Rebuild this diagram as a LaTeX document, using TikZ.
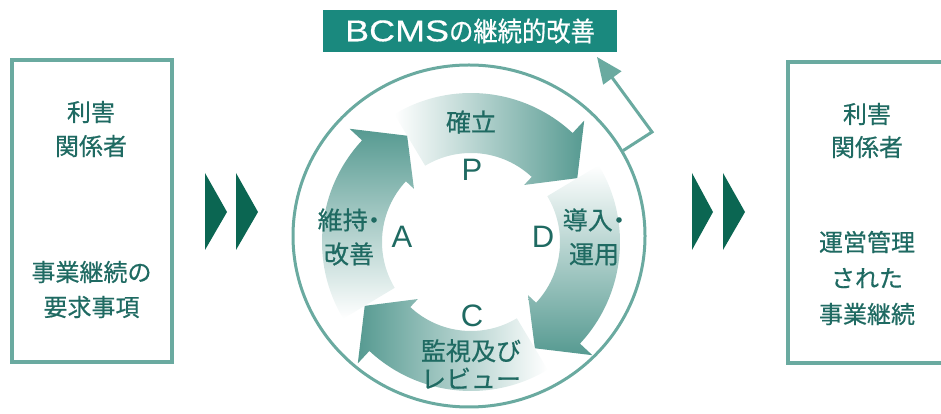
\documentclass[tikz,border=0pt]{standalone}
\usepackage{fontspec}
\newfontfamily\cjk[FakeBold=0.6]{Noto Sans CJK JP}
\newfontfamily\cjkt[FakeStretch=0.9,FakeBold=0.6]{Noto Sans CJK JP}
\newfontfamily\lat{Liberation Sans}
\newfontfamily\latt[FakeStretch=1.2,FakeBold=0.4]{Liberation Sans}
\usetikzlibrary{arrows.meta,shapes.geometric}
\definecolor{ringc}{HTML}{6AAAA0}
\definecolor{tealA}{HTML}{569A91}
\definecolor{txt}{HTML}{1F6A62}
\definecolor{titlebg}{HTML}{1A897E}
\definecolor{chev}{HTML}{0B6652}
\begin{document}
\begin{tikzpicture}[x=1pt,y=1pt,
  frame/.style={draw=ringc, line width=3.5pt, inner sep=0pt},
  jp/.style={text=txt, font=\cjk\fontsize{24}{35}\selectfont, align=center, inner sep=0pt},
  jpc/.style={text=txt, font=\cjk\fontsize{25}{34}\selectfont, align=center, inner sep=0pt},
  letter/.style={text=txt, font=\lat\fontsize{31}{31}\selectfont, inner sep=0pt},
  chevron/.style={fill=chev, draw=none},
  fb/.style={draw=ringc, line width=3pt, -{Triangle[length=26pt, width=22pt]}}]
\useasboundingbox (0,0) rectangle (941,414);
\clip (0,0) rectangle (941,414);

% outer ring
\node (ring) [draw=ringc, line width=3pt, ellipse, minimum width=352, minimum height=342, inner sep=0pt] at (469,178) {};

% PDCA arrows
\begin{scope}[shift={(471,172)}]
\shade[left color=white, right color=tealA]
  (121:149) arc[start angle=121, end angle=47, radius=149] -- (47:166) -- (31:124) -- (47:78) -- (47:89) arc[start angle=47, end angle=121, radius=89] -- cycle;
\shade[top color=white, bottom color=tealA]
  (31:149) arc[start angle=31, end angle=-43, radius=149] -- (-43:166) -- (-59:124) -- (-43:78) -- (-43:89) arc[start angle=-43, end angle=31, radius=89] -- cycle;
\shade[right color=white, left color=tealA]
  (-59:149) arc[start angle=-59, end angle=-133, radius=149] -- (-133:166) -- (-149:124) -- (-133:78) -- (-133:89) arc[start angle=-133, end angle=-59, radius=89] -- cycle;
\shade[bottom color=white, top color=tealA]
  (211:149) arc[start angle=211, end angle=137, radius=149] -- (137:166) -- (121:124) -- (137:78) -- (137:89) arc[start angle=137, end angle=211, radius=89] -- cycle;
\end{scope}

% circle labels
\node (est) [jpc] at (471,292) {確立};
\node (lP) [letter] at (472,244) {P};
\node (lA) [letter] at (402,177) {A};
\node (lD) [letter] at (543,177) {D};
\node (lC) [letter] at (472,98) {C};
\node (act) [jpc] at (349,177) {維持\makebox[0.5em]{・}\\改善};
\node (dolab) [jpc] at (594,177) {導入\makebox[0.5em]{・}\\運用};
\node (chk) [jpc, font=\cjk\fontsize{25}{28}\selectfont] at (471,50) {監視及び\\レビュー};

% title and feedback arrow
\node (title) [fill=titlebg, minimum width=294, minimum height=42, inner sep=0pt, text=white] at (470,383)
  {{\latt\fontsize{30}{30}\selectfont BCMS}{\cjkt\fontsize{27}{27}\selectfont の継続的改善}};
\coordinate (fbcorner) at (652,282);
\coordinate (fbtip) at (597,357);
\draw[fb] (ring.29) -- (fbcorner) -- (fbtip);

% chevrons
\fill[chevron] (205,241) -- (227,202) -- (205,164) -- cycle;
\fill[chevron] (236,241) -- (258,202) -- (236,164) -- cycle;
\fill[chevron] (692,241) -- (713,202) -- (692,164) -- cycle;
\fill[chevron] (723,241) -- (745,202) -- (723,164) -- cycle;

% side boxes
\node (lbox) [frame, minimum width=160, minimum height=302] at (92,203) {};
\node (rbox) [frame, minimum width=167, minimum height=301] at (871.5,201.5) {};
\node (ltop) [jp, font=\cjk\fontsize{24}{34}\selectfont] at (91,285) {利害\\関係者};
\node (lbot) [jp] at (91.5,124.5) {事業継続の\\要求事項};
\node (rtop) [jp, font=\cjk\fontsize{24}{33}\selectfont] at (867,283.5) {利害\\関係者};
\node (rbot) [jp, font=\cjk\fontsize{24}{36}\selectfont] at (867,136) {運営管理\\された\\事業継続};
\end{tikzpicture}
\end{document}
